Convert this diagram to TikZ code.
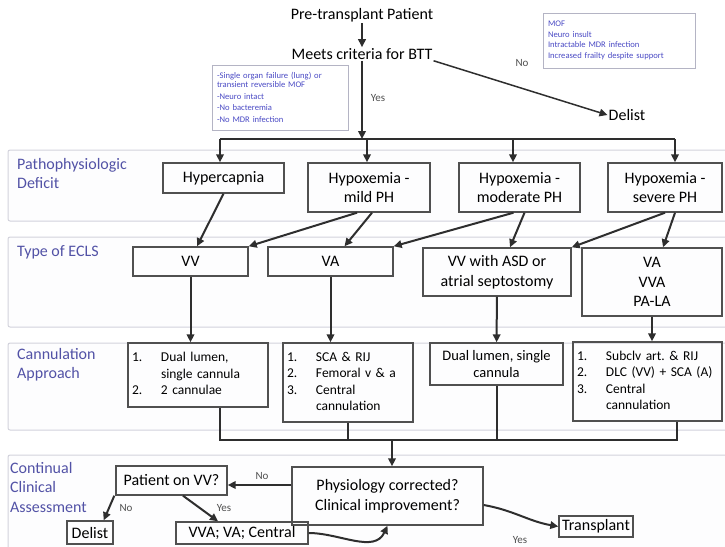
\documentclass[tikz,border=0pt]{standalone}
\usepackage{fontspec}
\setmainfont{Carlito}
\usetikzlibrary{arrows.meta}
\definecolor{boxgray}{HTML}{505050}
\definecolor{arrowgray}{HTML}{2E2E2E}
\definecolor{bandline}{HTML}{D2D2DC}
\definecolor{bandfill}{HTML}{FDFDFE}
\definecolor{bandtext}{HTML}{5252A6}
\definecolor{critblue}{HTML}{4A4AC4}
\definecolor{critline}{HTML}{B4B4C4}
\begin{document}
\begin{tikzpicture}[x=1pt, y=-1pt]
    \tikzset{box/.style={draw=boxgray, line width=1.4pt, align=center, inner sep=4pt, font=\fontsize{16}{19.5}\selectfont}}
    \tikzset{listbox/.style={box, align=left, font=\fontsize{13.5}{16.5}\selectfont}}
    \tikzset{plain/.style={align=center, inner sep=1pt, font=\fontsize{16}{19}\selectfont}}
    \tikzset{critbox/.style={draw=critline, line width=0.8pt, align=left, inner sep=5pt, text=critblue, font=\fontsize{8.6}{10.5}\selectfont}}
    \tikzset{band/.style={draw=bandline, line width=1pt, fill=bandfill, rounded corners=2pt}}
    \tikzset{bandlabel/.style={align=left, anchor=north west, inner sep=0pt, text=bandtext, font=\fontsize{16}{19.5}\selectfont}}
    \tikzset{flow/.style={-{Triangle[length=8pt, width=7.5pt]}, line width=2pt, draw=arrowgray}}
    \tikzset{link/.style={line width=2pt, draw=arrowgray}}
    \tikzset{lbl/.style={inner sep=1pt, text=boxgray, font=\fontsize{11}{12}\selectfont}}

    \useasboundingbox (0,0) rectangle (725,546);

    % bands
    \draw[band] (8,150) rectangle (732,221);
    \draw[band] (8,237) rectangle (732,327);
    \draw[band] (8,343) rectangle (732,430);
    \draw[band] (8,455) rectangle (732,552);
    \node[bandlabel] (DeficitLbl) at (17,158) {Pathophysiologic\\Deficit};
    \node[bandlabel] (EclsLbl) at (17,245) {Type of ECLS};
    \node[bandlabel] (CannLbl) at (17,348) {Cannulation\\Approach};
    \node[bandlabel] (AssessLbl) at (10,462) {Continual\\Clinical\\Assessment};

    % top
    \node[plain] (Pre) at (362,15) {Pre-transplant Patient};
    \node[plain] (Meets) at (362,54) {Meets criteria for BTT};
    \node[plain] (DelistTop) at (627,115) {Delist};
    \node[critbox, text width=126, minimum height=65] (CritIn) at (280,97.5) {-Single organ failure (lung) or\\[-1.5pt]transient reversible MOF\\[1pt]-Neuro intact\\[1pt]-No bacteremia\\[1pt]-No MDR infection};
    \node[critbox, text width=142, minimum height=55] (CritOut) at (619,40.5) {MOF\\Neuro insult\\Intractable MDR infection\\Increased frailty despite support};
    \draw[flow] (Pre) -- (Meets);
    \draw[flow, line width=1.5pt] (Meets.south east) -- (DelistTop.west);
    \node[lbl] (NoTop) at (522,63) {No};

    % deficits
    \node[box, minimum width=121, minimum height=30] (Hyper) at (223.5,178) {Hypercapnia};
    \node[box, minimum width=122, minimum height=49] (Mild) at (369,187.5) {Hypoxemia -\\mild PH};
    \node[box, minimum width=121, minimum height=49] (Moderate) at (519.5,187.5) {Hypoxemia -\\moderate PH};
    \node[box, minimum width=114, minimum height=49] (Severe) at (665,187.5) {Hypoxemia -\\severe PH};

    \coordinate (Bus) at (362,139);
    \coordinate (BusA) at (220,139);
    \coordinate (BusB) at (367,139);
    \coordinate (BusC) at (513,139);
    \coordinate (BusD) at (675,139);
    \draw[flow] (Meets) -- (Bus);
    \node[lbl] (YesTop) at (378,98) {Yes};
    \draw[link] (BusA) -- (BusD);
    \foreach \b/\n in {BusA/Hyper,BusB/Mild,BusC/Moderate,BusD/Severe}{
        \draw[flow] (\b) -- (\b |- \n.north);
    }

    % ecls types
    \node[box, minimum width=115, minimum height=29] (VV) at (190.5,261.5) {VV};
    \node[box, minimum width=125, minimum height=29] (VA) at (330.5,261.5) {VA};
    \node[box, minimum width=148, minimum height=48] (ASD) at (497,272) {VV with ASD or\\atrial septostomy};
    \node[box, minimum width=140, minimum height=68] (VVA) at (652,282) {VA\\VVA\\PA-LA};

    \draw[flow] (Hyper.south) -- ([xshift=6.5]VV.north);
    \draw[flow] ([xshift=-12]Mild.south) -- (VV.north east);
    \draw[flow] ([xshift=3]Mild.south) -- ([xshift=14]VA.north);
    \draw[flow] ([xshift=-6]Moderate.south) -- (VA.north east);
    \draw[flow] ([xshift=5]Moderate.south) -- ([xshift=13]ASD.north);
    \draw[flow] (Severe.south) -- (ASD.north east);
    \draw[flow] ([xshift=10]Severe.south) -- ([xshift=11]VVA.north);

    % cannulation
    \node[listbox, text width=132, minimum height=64] (CannVV) at (198,375) {\begin{tabular}{@{}p{29pt}@{}l@{}}1. & Dual lumen,\\ & single cannula\\ 2. & 2 cannulae\end{tabular}};
    \node[listbox, text width=122, minimum height=79] (CannVA) at (348,382.5) {\begin{tabular}{@{}p{29pt}@{}l@{}}1. & SCA \& RIJ\\ 2. & Femoral v \& a\\ 3. & Central\\ & cannulation\end{tabular}};
    \node[box, minimum width=133, minimum height=42, font=\fontsize{14.5}{17}\selectfont] (CannASD) at (496.5,364) {Dual lumen, single\\cannula};
    \node[listbox, text width=141, minimum height=79] (CannVVA) at (647.5,381.5) {\begin{tabular}{@{}p{29pt}@{}l@{}}1. & Subclv art.\ \& RIJ\\ 2. & DLC (VV) + SCA (A)\\ 3. & Central\\ & cannulation\end{tabular}};

    \draw[flow] (VV.south) -- (VV.south |- CannVV.north);
    \draw[flow] (VA.south) -- (VA.south |- CannVA.north);
    \draw[flow] (ASD) -- (CannASD);
    \draw[flow] (VVA.south) -- (VVA.south |- CannVVA.north);

    \coordinate (Merge) at (392,440);
    \draw[link] ([xshift=22]CannVV.south) |- ([xshift=29.5]CannVVA.south |- Merge) -- ([xshift=29.5]CannVVA.south);
    \draw[link] (CannVA.south) -- (CannVA.south |- Merge);
    \draw[link] (CannASD.south) -- (CannASD.south |- Merge);

    % assessment
    \node[box, minimum width=191, minimum height=58] (Physio) at (387.5,496) {Physiology corrected?\\Clinical improvement?};
    \node[box, minimum width=111, minimum height=29] (OnVV) at (171.5,480.5) {Patient on VV?};
    \node[box, minimum width=74, minimum height=21, inner sep=1pt] (Transplant) at (596,526.5) {Transplant};
    \node[box, minimum width=46, minimum height=23, inner sep=1pt] (DelistLow) at (90,532.5) {Delist};
    \node[box, minimum width=132, minimum height=22, inner sep=1pt] (Escalate) at (242,533) {VVA; VA; Central};

    \draw[flow] (Merge) -- (Merge |- Physio.north);
    \draw[flow] ([yshift=11]Physio.west) -- ([yshift=11]Physio.west -| OnVV.east);
    \node[lbl] (NoPhys) at (262,476) {No};
    \draw[flow] ([xshift=-1]OnVV.south west) -- ([xshift=-10]DelistLow.north east);
    \node[lbl] (NoVV) at (126,508) {No};
    \draw[flow] ([xshift=11.5]OnVV.south) -- ([xshift=-24]Escalate.north);
    \node[lbl] (YesVV) at (224,508) {Yes};
    \draw[flow] (Escalate.east) to[out=0, in=-115] (Physio.south);
    \draw[flow] ([yshift=-9]Physio.east) to[out=-10, in=170] (Transplant.west);
    \node[lbl] (YesPhys) at (520,540) {Yes};
\end{tikzpicture}
\end{document}
